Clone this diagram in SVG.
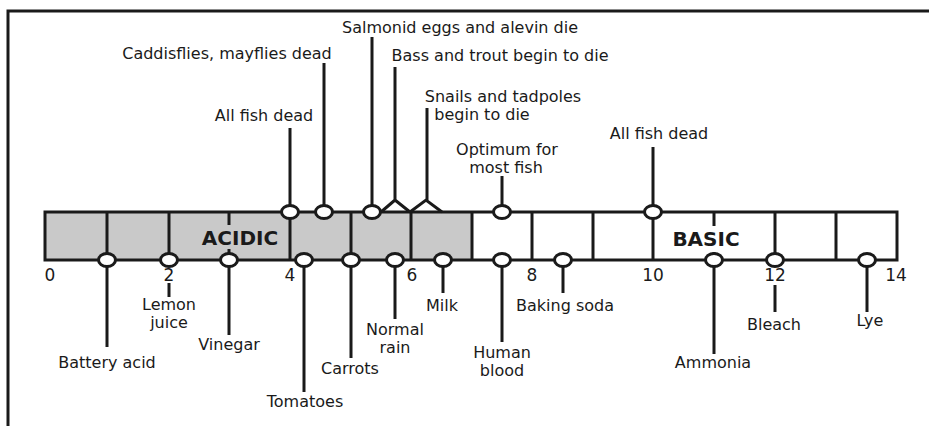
<svg xmlns="http://www.w3.org/2000/svg" width="929" height="426" viewBox="0 0 929 426">
<style>
.ln{stroke:#1a1a1a;stroke-width:3;fill:none;stroke-linecap:butt}
.bar{stroke:#1a1a1a;stroke-width:3}
.dot{fill:#fff;stroke:#1a1a1a;stroke-width:3}
text{font-family:"DejaVu Sans","Liberation Sans",sans-serif;fill:#1a1a1a}
.lb{font-size:16px;text-anchor:middle}
.num{font-size:17px;text-anchor:middle}
.big{font-size:20px;font-weight:bold;text-anchor:middle}
</style>
<rect width="929" height="426" fill="#fff"/>
<g id="frame"><path class="ln" d="M8,426 V11 H929" stroke-width="2.5"/></g>
<g id="scale">
<rect x="45" y="212" width="427" height="48" fill="#c9c9c9"/>
<rect class="bar" x="45" y="212" width="852" height="48" fill="none"/>
<path class="ln" d="M107,212V260M169,212V260M229,212V225M229,249V260M290,212V260M351,212V260M411,212V260M472,212V260M532,212V260M593,212V260M653,212V260M714,212V226M714,252V260M775,212V260M836,212V260"/>
<text class="big" x="240" y="245">ACIDIC</text>
<text class="big" x="706" y="246">BASIC</text>
<text class="num" x="50" y="281">0</text>
<text class="num" x="169" y="281">2</text>
<text class="num" x="290" y="281">4</text>
<text class="num" x="412" y="281">6</text>
<text class="num" x="532" y="281">8</text>
<text class="num" x="653" y="281">10</text>
<text class="num" x="775" y="281">12</text>
<text class="num" x="896" y="281">14</text>
</g>
<g id="connectors">
<path class="ln" d="M290,128V212M324,63V212M372,37V212M395,67V200M381,212L395,200L410,212M427,108V200M410,212L426,200L442,212M502,176V212M653,147V212"/>
<path class="ln" d="M107,260V347M169,283V297M229,260V335M304,260V392M351,260V358M395,260V319M443,260V293M502,260V342M563,260V293M714,260V354M775,285V312M867,260V312"/>
</g>
<g id="n-allfish-acid"><ellipse class="dot" cx="290" cy="212" rx="8.5" ry="6.5"/><text class="lb" x="264" y="121">All fish dead</text></g>
<g id="n-caddis"><ellipse class="dot" cx="324" cy="212" rx="8.5" ry="6.5"/><text class="lb" x="227" y="59">Caddisflies, mayflies dead</text></g>
<g id="n-salmonid"><ellipse class="dot" cx="372" cy="212" rx="8.5" ry="6.5"/><text class="lb" x="460" y="33">Salmonid eggs and alevin die</text></g>
<g id="n-bass"><text class="lb" x="500" y="61">Bass and trout begin to die</text></g>
<g id="n-snails"><text class="lb" x="503" y="102">Snails and tadpoles</text><text class="lb" x="482" y="120">begin to die</text></g>
<g id="n-optimum"><ellipse class="dot" cx="502" cy="212" rx="8.5" ry="6.5"/><text class="lb" x="507" y="155">Optimum for</text><text class="lb" x="506" y="173">most fish</text></g>
<g id="n-allfish-basic"><ellipse class="dot" cx="653" cy="212" rx="8.5" ry="6.5"/><text class="lb" x="659" y="139">All fish dead</text></g>
<g id="n-battery"><ellipse class="dot" cx="107" cy="260" rx="8.5" ry="6.5"/><text class="lb" x="107" y="368">Battery acid</text></g>
<g id="n-lemon"><ellipse class="dot" cx="169" cy="260" rx="8.5" ry="6.5"/><text class="lb" x="169" y="310">Lemon</text><text class="lb" x="169" y="328">juice</text></g>
<g id="n-vinegar"><ellipse class="dot" cx="229" cy="260" rx="8.5" ry="6.5"/><text class="lb" x="229" y="350">Vinegar</text></g>
<g id="n-tomatoes"><ellipse class="dot" cx="304" cy="260" rx="8.5" ry="6.5"/><text class="lb" x="305" y="407">Tomatoes</text></g>
<g id="n-carrots"><ellipse class="dot" cx="351" cy="260" rx="8.5" ry="6.5"/><text class="lb" x="350" y="374">Carrots</text></g>
<g id="n-rain"><ellipse class="dot" cx="395" cy="260" rx="8.5" ry="6.5"/><text class="lb" x="395" y="335">Normal</text><text class="lb" x="395" y="353">rain</text></g>
<g id="n-milk"><ellipse class="dot" cx="443" cy="260" rx="8.5" ry="6.5"/><text class="lb" x="442" y="311">Milk</text></g>
<g id="n-blood"><ellipse class="dot" cx="502" cy="260" rx="8.5" ry="6.5"/><text class="lb" x="502" y="358">Human</text><text class="lb" x="502" y="376">blood</text></g>
<g id="n-soda"><ellipse class="dot" cx="563" cy="260" rx="8.5" ry="6.5"/><text class="lb" x="565" y="311">Baking soda</text></g>
<g id="n-ammonia"><ellipse class="dot" cx="714" cy="260" rx="8.5" ry="6.5"/><text class="lb" x="713" y="368">Ammonia</text></g>
<g id="n-bleach"><ellipse class="dot" cx="775" cy="260" rx="8.5" ry="6.5"/><text class="lb" x="774" y="330">Bleach</text></g>
<g id="n-lye"><ellipse class="dot" cx="867" cy="260" rx="8.5" ry="6.5"/><text class="lb" x="870" y="326">Lye</text></g>
</svg>
